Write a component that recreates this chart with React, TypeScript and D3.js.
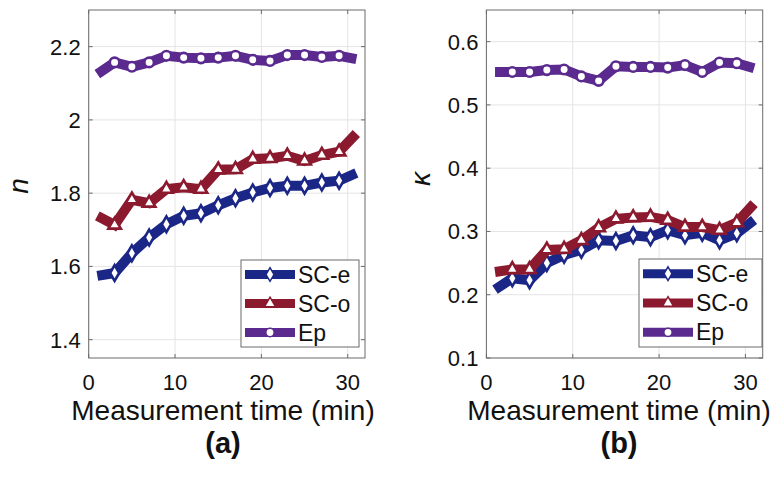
import React from "react";
import * as d3 from "d3";

// ---------- data ----------
const times = [1, 3, 5, 7, 9, 11, 13, 15, 17, 19, 21, 23, 25, 27, 29, 31];
const xTicks = [0, 10, 20, 30];

const nSCe = [1.574, 1.582, 1.636, 1.679, 1.715, 1.738, 1.745, 1.767, 1.786, 1.802, 1.814, 1.82, 1.82, 1.829, 1.834, 1.855];
const nSCo = [1.738, 1.713, 1.782, 1.773, 1.811, 1.816, 1.811, 1.864, 1.865, 1.893, 1.895, 1.902, 1.888, 1.904, 1.913, 1.963];
const nEp = [2.125, 2.157, 2.145, 2.157, 2.175, 2.17, 2.168, 2.17, 2.175, 2.164, 2.161, 2.177, 2.177, 2.172, 2.175, 2.166];
const nTicks = [1.4, 1.6, 1.8, 2, 2.2];
const nTickLabels = ["1.4", "1.6", "1.8", "2", "2.2"];

const kSCe = [0.208, 0.226, 0.223, 0.25, 0.263, 0.271, 0.286, 0.285, 0.294, 0.291, 0.302, 0.294, 0.298, 0.286, 0.297, 0.318];
const kSCo = [0.236, 0.24, 0.24, 0.271, 0.272, 0.286, 0.306, 0.32, 0.322, 0.323, 0.318, 0.307, 0.307, 0.302, 0.314, 0.344];
const kEp = [0.552, 0.552, 0.552, 0.555, 0.556, 0.545, 0.538, 0.561, 0.56, 0.56, 0.559, 0.563, 0.552, 0.567, 0.566, 0.558];
const kTicks = [0.1, 0.2, 0.3, 0.4, 0.5, 0.6];
const kTickLabels = ["0.1", "0.2", "0.3", "0.4", "0.5", "0.6"];

const seriesNames = ["SC-e", "SC-o", "Ep"];
const seriesColors = ["#1b2787", "#8c1a2f", "#5b2a8f"];
const seriesSymbols = [d3.symbolDiamond, d3.symbolTriangle, d3.symbolCircle];
const symbolSizes = [72, 68, 72];

const FONT = "'Liberation Sans', Arial, Helvetica, sans-serif";

type PanelProps = {
  left: number;
  right: number;
  top: number;
  bottom: number;
  yDomain: [number, number];
  yTicks: number[];
  yTickLabels: string[];
  values: number[][];
  yLabel: string;
  yLabelX: number;
  yLabelY: number;
  panelLabel: string;
  labelCx: number;
  legend: { x0: number; x1: number; y0: number; y1: number };
};

function Panel(p: PanelProps) {
  const x = d3.scaleLinear().domain([0, 32]).range([p.left, p.right]);
  const y = d3.scaleLinear().domain(p.yDomain).range([p.bottom, p.top]);
  const line = d3
    .line<number>()
    .x((_, i) => x(times[i]))
    .y((d) => y(d));
  const tickLen = 4;
  const lg = p.legend;
  const rowH = (lg.y1 - lg.y0) / 3;
  return (
    <g>
      {/* grid */}
      {xTicks.map((t) => (
        <line key={"gx" + t} x1={x(t)} x2={x(t)} y1={p.top} y2={p.bottom} stroke="#e4e4e4" strokeWidth={1} />
      ))}
      {p.yTicks.map((t) => (
        <line key={"gy" + t} x1={p.left} x2={p.right} y1={y(t)} y2={y(t)} stroke="#e4e4e4" strokeWidth={1} />
      ))}
      {/* series */}
      {p.values.map((vals, si) => (
        <g key={"s" + si}>
          <path
            d={line(vals) || ""}
            fill="none"
            stroke={seriesColors[si]}
            strokeWidth={10}
            strokeLinejoin="miter"
            strokeLinecap="butt"
          />
          {vals.map((v, i) =>
            i === 0 || i === vals.length - 1 ? null : (
              <path
                key={i}
                d={d3.symbol(seriesSymbols[si], symbolSizes[si])() || ""}
                transform={`translate(${x(times[i])},${y(v)})`}
                fill="#ffffff"
                stroke={seriesColors[si]}
                strokeWidth={2.6}
              />
            )
          )}
        </g>
      ))}
      {/* axes box */}
      <rect x={p.left} y={p.top} width={p.right - p.left} height={p.bottom - p.top} fill="none" stroke="#6b6b6b" strokeWidth={1} />
      {xTicks.map((t) => (
        <g key={"tx" + t}>
          <line x1={x(t)} x2={x(t)} y1={p.bottom} y2={p.bottom - tickLen} stroke="#6b6b6b" />
          <line x1={x(t)} x2={x(t)} y1={p.top} y2={p.top + tickLen} stroke="#6b6b6b" />
          <text x={x(t)} y={p.bottom + 32} textAnchor="middle" fontFamily={FONT} fontSize={22} fill="#111">
            {t}
          </text>
        </g>
      ))}
      {p.yTicks.map((t, i) => (
        <g key={"ty" + t}>
          <line x1={p.left} x2={p.left + tickLen} y1={y(t)} y2={y(t)} stroke="#6b6b6b" />
          <line x1={p.right} x2={p.right - tickLen} y1={y(t)} y2={y(t)} stroke="#6b6b6b" />
          <text x={p.left - 8} y={y(t) + 8} textAnchor="end" fontFamily={FONT} fontSize={22} fill="#111">
            {p.yTickLabels[i]}
          </text>
        </g>
      ))}
      {/* legend */}
      <rect x={lg.x0} y={lg.y0} width={lg.x1 - lg.x0} height={lg.y1 - lg.y0} fill="#fff" stroke="#6b6b6b" strokeWidth={1} />
      {seriesNames.map((name, si) => {
        const ry = lg.y0 + rowH * (si + 0.5);
        const sx0 = lg.x0 + 4;
        const sx1 = lg.x0 + 54;
        return (
          <g key={"lg" + si}>
            <line x1={sx0} x2={sx1} y1={ry} y2={ry} stroke={seriesColors[si]} strokeWidth={9} />
            <path
              d={d3.symbol(seriesSymbols[si], symbolSizes[si] * 0.75)() || ""}
              transform={`translate(${(sx0 + sx1) / 2},${ry})`}
              fill="#fff"
              stroke={seriesColors[si]}
              strokeWidth={1.5}
            />
            <text x={sx1 + 3} y={ry + 8} fontFamily={FONT} fontSize={23} fill="#111">
              {name}
            </text>
          </g>
        );
      })}
      {/* labels */}
      <text
        transform={`translate(${p.yLabelX},${p.yLabelY}) rotate(-90)`}
        textAnchor="middle"
        fontFamily={FONT}
        fontStyle="italic"
        fontSize={28}
        fill="#111"
      >
        {p.yLabel}
      </text>
      <text x={p.labelCx} y={p.bottom + 62} textAnchor="middle" fontFamily={FONT} fontSize={28} fill="#111">
        Measurement time (min)
      </text>
      <text x={p.labelCx} y={p.bottom + 95} textAnchor="middle" fontFamily={FONT} fontWeight="bold" fontSize={29} fill="#111">
        {p.panelLabel}
      </text>
    </g>
  );
}

export default function App() {
  return (
    <svg
      width={773}
      height={482}
      viewBox="0 0 773 482"
      style={{ position: "absolute", left: 0, top: 0, background: "#fff" }}
    >
      <rect x={0} y={0} width={773} height={482} fill="#fff" />
      <Panel
        left={88.7}
        right={365}
        top={10}
        bottom={358}
        yDomain={[1.35, 2.3]}
        yTicks={nTicks}
        yTickLabels={nTickLabels}
        values={[nSCe, nSCo, nEp]}
        yLabel="n"
        yLabelX={28}
        yLabelY={186}
        panelLabel="(a)"
        labelCx={223}
        legend={{ x0: 241, x1: 359, y0: 260, y1: 347 }}
      />
      <Panel
        left={486.4}
        right={762.7}
        top={10}
        bottom={358}
        yDomain={[0.1, 0.65]}
        yTicks={kTicks}
        yTickLabels={kTickLabels}
        values={[kSCe, kSCo, kEp]}
        yLabel="κ"
        yLabelX={430}
        yLabelY={179}
        panelLabel="(b)"
        labelCx={619}
        legend={{ x0: 639, x1: 762, y0: 259, y1: 347 }}
      />
    </svg>
  );
}
